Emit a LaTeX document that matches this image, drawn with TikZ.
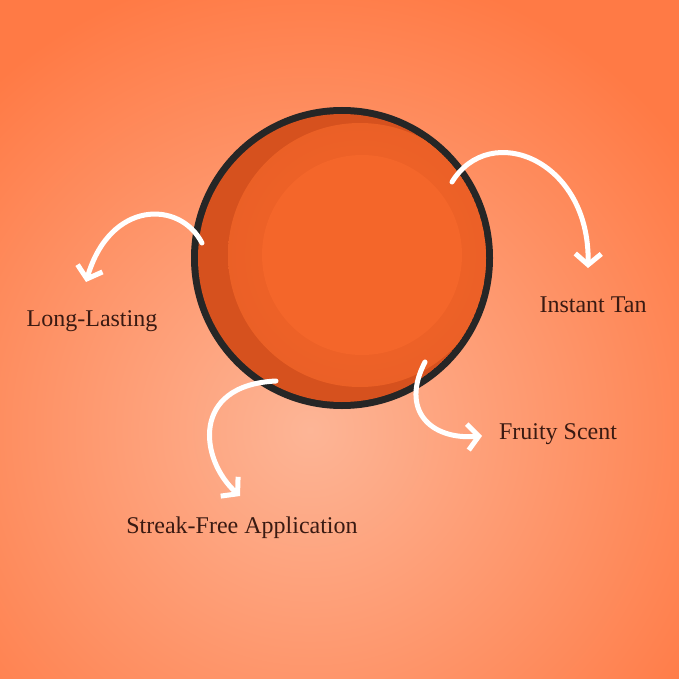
\documentclass[tikz,border=0pt]{standalone}
\usepackage{fontspec}
\setmainfont{Liberation Serif}
\usetikzlibrary{arrows.meta}
\definecolor{bgedge}{HTML}{FF7A45}
\definecolor{bgmid}{HTML}{FDB596}
\definecolor{lid}{HTML}{F4662A}
\definecolor{liddark}{HTML}{D6511E}
\definecolor{txt}{HTML}{3A1A12}
\tikzset{
  arr/.style={white, line width=5pt, line cap=round, -{Straight Barb[length=11pt,width=26pt,line width=5pt]}},
  lbl/.style={text=txt, font=\fontsize{24}{28}\selectfont}
}
\begin{document}
\begin{tikzpicture}[x=1pt,y=-1pt]
\useasboundingbox (0,0) rectangle (679,679);
\fill[bgedge] (0,0) rectangle (679,679);
\shade[inner color=bgmid, outer color=bgedge] (310,430) circle (470);
\fill[black!85] (342,258) circle (151);
\begin{scope}
\clip (342,258) circle (144);
\fill[liddark] (342,258) circle (144);
\shade[inner color=lid, outer color=lid!70!liddark] (360,255) circle (132);
\fill[lid] (362,255) circle (100);
\end{scope}
\node[lbl] (ll) at (92,321) {Long-Lasting};
\node[lbl] (it) at (593,305) {Instant Tan};
\node[lbl] (fs) at (558,434) {Fruity Scent};
\node[lbl] (sf) at (242,528) {Streak-Free Application};
\coordinate (a1) at (202,243);
\coordinate (b1) at (86,282);
\coordinate (a2) at (452,182);
\coordinate (b2) at (588,268);
\coordinate (a3) at (276,381);
\coordinate (b3) at (240,496);
\coordinate (a4) at (425,362);
\coordinate (b4) at (482,436);
\draw[arr] (a1) .. controls (180,200) and (110,200) .. (b1);
\draw[arr] (a2) .. controls (490,120) and (590,160) .. (b2);
\draw[arr] (a3) .. controls (190,385) and (200,460) .. (b3);
\draw[arr] (a4) .. controls (400,410) and (430,440) .. (b4);
\end{tikzpicture}
\end{document}
